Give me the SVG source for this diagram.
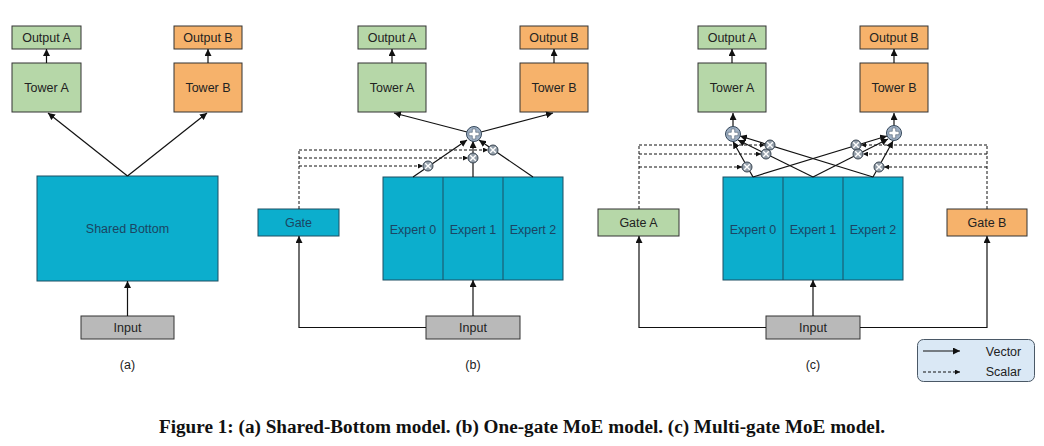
<svg xmlns="http://www.w3.org/2000/svg" width="1044" height="446" viewBox="0 0 1044 446">
<defs>
<marker id="ah" markerUnits="userSpaceOnUse" markerWidth="8" markerHeight="7" refX="7" refY="3.5" orient="auto"><path d="M0,0 L7,3.5 L0,7 z" fill="#111"/></marker>
<marker id="ahs" markerUnits="userSpaceOnUse" markerWidth="6" markerHeight="5" refX="5" refY="2.5" orient="auto"><path d="M0,0 L5,2.5 L0,5 z" fill="#111"/></marker>
<g id="plus"><circle r="7.5" fill="#9fb0c4" stroke="#34475a" stroke-width="1"/><path d="M-1.7,-5 H1.7 V-1.7 H5 V1.7 H1.7 V5 H-1.7 V1.7 H-5 V-1.7 H-1.7 Z" fill="#fff" stroke="#34475a" stroke-width="0.5"/></g>
<g id="mul"><circle r="5" fill="#939ea9" stroke="#3a4652" stroke-width="1"/><path d="M-2.8,-2.8 L2.8,2.8 M-2.8,2.8 L2.8,-2.8" stroke="#fff" stroke-width="1.4"/></g>
</defs>
<style>
.box{stroke:#333;stroke-width:1}
.g{fill:#b6d7a8}
.o{fill:#f6b26b}
.t{fill:#0caecd;stroke:#1d4f62}
.i{fill:#b9b9b9}
.lb{font-family:"Liberation Sans",Arial,sans-serif;font-size:12.5px;fill:#222;text-anchor:middle}
.lt{font-family:"Liberation Sans",Arial,sans-serif;font-size:12.5px;fill:#1b4563;text-anchor:middle}
.v{fill:none;stroke:#111;stroke-width:1.2;marker-end:url(#ah)}
.s{fill:none;stroke:#111;stroke-width:1;stroke-dasharray:3,2;marker-end:url(#ahs)}
.sn{fill:none;stroke:#111;stroke-width:1;stroke-dasharray:3,2}
</style>
<rect width="1044" height="446" fill="#fff"/>

<!-- Panel (a) -->
<g id="a-outA"><rect class="box g" x="12" y="26" width="69" height="23"/><text class="lb" x="46.5" y="42">Output A</text></g>
<g id="a-towA"><rect class="box g" x="12" y="63" width="69" height="49"/><text class="lb" x="46.5" y="92">Tower A</text></g>
<g id="a-outB"><rect class="box o" x="174" y="26" width="68" height="23"/><text class="lb" x="208" y="42">Output B</text></g>
<g id="a-towB"><rect class="box o" x="174" y="63" width="68" height="49"/><text class="lb" x="208" y="92">Tower B</text></g>
<g id="a-shared"><rect class="box t" x="37" y="176" width="181" height="105"/><text class="lt" x="127.5" y="233">Shared Bottom</text></g>
<g id="a-input"><rect class="box i" x="81" y="316" width="93" height="23"/><text class="lb" x="127.5" y="332">Input</text></g>
<text class="lb" x="127.5" y="369">(a)</text>

<!-- Panel (b) -->
<g id="b-outA"><rect class="box g" x="358" y="26" width="68" height="23"/><text class="lb" x="392" y="42">Output A</text></g>
<g id="b-towA"><rect class="box g" x="358" y="63" width="68" height="49"/><text class="lb" x="392" y="92">Tower A</text></g>
<g id="b-outB"><rect class="box o" x="520" y="26" width="68" height="23"/><text class="lb" x="554" y="42">Output B</text></g>
<g id="b-towB"><rect class="box o" x="520" y="63" width="68" height="49"/><text class="lb" x="554" y="92">Tower B</text></g>
<g id="b-experts"><rect class="box t" x="383" y="177" width="180" height="103"/><path d="M443,177 V280 M503,177 V280" stroke="#1d4f62"/><text class="lt" x="413" y="234">Expert 0</text><text class="lt" x="473" y="234">Expert 1</text><text class="lt" x="533" y="234">Expert 2</text></g>
<g id="b-gate"><rect class="box t" x="258" y="209" width="81" height="27"/><text class="lt" x="298.5" y="227">Gate</text></g>
<g id="b-input"><rect class="box i" x="426" y="316" width="94" height="23"/><text class="lb" x="473" y="332">Input</text></g>
<text class="lb" x="473" y="369">(b)</text>

<!-- Panel (c) -->
<g id="c-outA"><rect class="box g" x="698" y="26" width="68" height="23"/><text class="lb" x="732" y="42">Output A</text></g>
<g id="c-towA"><rect class="box g" x="698" y="63" width="68" height="49"/><text class="lb" x="732" y="92">Tower A</text></g>
<g id="c-outB"><rect class="box o" x="860" y="26" width="68" height="23"/><text class="lb" x="894" y="42">Output B</text></g>
<g id="c-towB"><rect class="box o" x="860" y="63" width="68" height="49"/><text class="lb" x="894" y="92">Tower B</text></g>
<g id="c-experts"><rect class="box t" x="723" y="177" width="180" height="103"/><path d="M783,177 V280 M843,177 V280" stroke="#1d4f62"/><text class="lt" x="753" y="234">Expert 0</text><text class="lt" x="813" y="234">Expert 1</text><text class="lt" x="873" y="234">Expert 2</text></g>
<g id="c-gateA"><rect class="box g" x="598" y="209" width="81" height="27"/><text class="lb" x="638.5" y="227">Gate A</text></g>
<g id="c-gateB"><rect class="box o" x="947" y="209" width="80" height="27"/><text class="lb" x="987" y="227">Gate B</text></g>
<g id="c-input"><rect class="box i" x="766" y="316" width="94" height="23"/><text class="lb" x="813" y="332">Input</text></g>
<text class="lb" x="813" y="369">(c)</text>

<!-- Connectors -->
<g id="connectors">
<path class="v" d="M46.5,63 V49"/>
<path class="v" d="M208,63 V49"/>
<path class="v" d="M127.5,176 L48,113"/>
<path class="v" d="M127.5,176 L207,113"/>
<path class="v" d="M127.5,316 V281"/>
<path class="v" d="M392,63 V49"/>
<path class="v" d="M554,63 V49"/>
<path class="v" d="M467,132 L394,113"/>
<path class="v" d="M481,132 L553,113"/>
<path class="v" d="M473,316 V280"/>
<path class="v" d="M426,327.5 H299 V236"/>
<path class="v" d="M413,177 L467,140"/>
<path class="v" d="M473,177 V141"/>
<path class="v" d="M533,177 L479,140"/>
<path class="sn" d="M299,209 V150"/>
<path class="s" d="M299,150 H488"/>
<path class="s" d="M299,158 H468"/>
<path class="s" d="M299,166 H423"/>
<path class="v" d="M732,63 V49"/>
<path class="v" d="M894,63 V49"/>
<path class="v" d="M733,126.5 V113"/>
<path class="v" d="M894,125.5 V113"/>
<path class="v" d="M813,316 V280"/>
<path class="v" d="M766,327.5 H639 V236"/>
<path class="v" d="M860,327.5 H987 V236"/>
<path class="v" d="M753,177 L733,141.5"/>
<path class="v" d="M813,177 L738,140"/>
<path class="v" d="M873,177 L740,136"/>
<path class="v" d="M753,177 L887,136"/>
<path class="v" d="M813,177 L888,139"/>
<path class="v" d="M873,177 L893,141"/>
<path class="sn" d="M639,209 V145"/>
<path class="s" d="M639,145 H765"/>
<path class="s" d="M639,154 H761"/>
<path class="s" d="M639,167 H742"/>
<path class="sn" d="M987,209 V145"/>
<path class="s" d="M987,145 H861"/>
<path class="s" d="M987,154 H863"/>
<path class="s" d="M987,167 H884"/>
</g>

<g id="ops">
<use href="#plus" x="474" y="134"/>
<use href="#mul" x="428" y="166"/>
<use href="#mul" x="473" y="158"/>
<use href="#mul" x="493" y="150"/>
<use href="#plus" x="733" y="134"/>
<use href="#plus" x="894" y="133"/>
<use href="#mul" x="747" y="167"/>
<use href="#mul" x="766" y="154"/>
<use href="#mul" x="770" y="145"/>
<use href="#mul" x="856" y="145"/>
<use href="#mul" x="858" y="154"/>
<use href="#mul" x="879" y="167"/>
</g>

<g id="legend">
<rect x="917.5" y="339.5" width="117" height="42" rx="6" fill="#dae8f5" stroke="#4a5866" stroke-width="1"/>
<path class="v" d="M923,351 H960"/>
<path class="s" d="M923,372 H960"/>
<text class="lb" x="1003.5" y="355.5">Vector</text>
<text class="lb" x="1003.5" y="376">Scalar</text>
</g>

<text x="522" y="433" font-family="Liberation Serif, Times New Roman, serif" font-weight="bold" font-size="18" fill="#111" text-anchor="middle" textLength="726" lengthAdjust="spacingAndGlyphs">Figure 1: (a) Shared-Bottom model. (b) One-gate MoE model. (c) Multi-gate MoE model.</text>
</svg>
